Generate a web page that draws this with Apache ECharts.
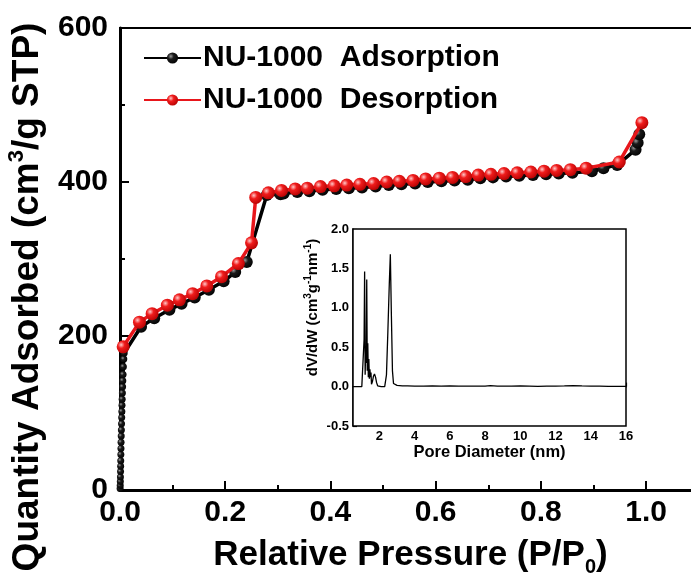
<!DOCTYPE html>
<html>
<head>
<meta charset="utf-8">
<script src="https://cdn.jsdelivr.net/npm/echarts@6/dist/echarts.min.js"></script>
<style>
html,body{margin:0;padding:0;background:#fff;}
#chart{width:691px;height:584px;}
</style>
</head>
<body>
<div id="chart"></div>
<script>
// ---- data ----
const adsX = [0.0002,0.0004,0.0006,0.0008,0.001,0.0012,0.0014,0.0016,0.0018,0.002,0.0023,0.0026,0.0029,0.0032,
  0.0035,0.0038,0.0041,0.0045,0.0049,0.0053,0.0058,0.0064,0.0072,0.008,
  0.040,0.065,0.094,0.117,0.142,0.169,0.197,0.219,0.241,0.279,0.305,0.311,0.337,0.360,0.385,0.411,0.435,0.460,
  0.486,0.511,0.535,0.561,0.585,0.611,0.636,0.661,0.685,0.709,0.734,0.759,0.785,0.810,0.834,0.860,
  0.897,0.919,0.945,0.980,0.984,0.987];
const adsY = [2,6,11,17,24,31,38,46,54,62,70,78,86,94,
  102,110,118,126,134,142,150,160,170,178,
  212,223,234,242,250,260,271,283,296,383,384,385,387,388,390,391,392,393,
  394,396,397,398,400,401,402,403,405,406,407,408,409,410,411,412,
  414,418,422,442,451,462];
const desX = [0.006,0.037,0.061,0.090,0.113,0.138,0.165,0.193,0.225,0.250,0.258,0.282,0.307,0.333,0.356,0.381,
  0.407,0.431,0.456,0.482,0.507,0.531,0.557,0.581,0.607,0.632,0.657,0.681,0.705,0.730,0.755,0.781,0.806,
  0.830,0.856,0.886,0.949,0.992];
const desY = [186,218,229,240,247,255,265,277,294,321,380,386,389,391,392,394,
  395,396,397,398,400,401,402,404,405,406,407,409,410,411,412,413,414,
  415,416,418,426,477];
// pore size distribution (inset)
const psdX = [0.5,1.0,1.10,1.13,1.16,1.19,1.22,1.25,1.28,1.31,1.34,1.37,1.40,1.43,1.46,1.49,1.52,1.55,
  1.60,1.66,1.72,1.78,1.84,1.90,1.95,2.10,2.30,2.40,2.48,2.56,2.62,2.68,2.74,2.80,2.90,3.0,3.3,3.6,4.0,
  4.5,5.0,5.5,6.0,6.5,7.0,7.5,8.0,8.3,8.7,9.0,9.5,10.0,10.5,11.0,11.5,12.0,12.5,13.0,13.5,14.0,14.5,15.0,15.5,16.0];
const psdY = [0,0,0.01,0.6,1.46,0.15,0.5,0.3,1.36,0.2,0.55,0.12,0.35,0.1,0.22,0.12,0.18,0.03,
  0.06,0.13,0.16,0.12,0.05,0.01,0.0,0.0,0.0,0.15,0.7,1.3,1.68,0.9,0.2,0.04,0.02,0.015,0.01,0.008,0.005,
  0.006,0.01,0.006,0.008,0.005,0.006,0.005,0.006,0.012,0.006,0.005,0.006,0.01,0.007,0.004,0.005,0.006,0.008,0.012,0.008,0.006,0.005,0.004,0.004,0.003];
const mainXTicks = [0, 0.2, 0.4, 0.6, 0.8, 1.0];
const mainYTicks = [0, 200, 400, 600];
const insetXTicks = [1,2,3,4,5,6,7,8,9,10,11,12,13,14,15,16];
const insetXLabels = [2,4,6,8,10,12,14,16];
const seriesNames = ['NU-1000  Adsorption', 'NU-1000  Desorption'];

// ---- chart ----
const FF = "'Liberation Sans', Arial, Helvetica, sans-serif";
const zip = (xs, ys) => xs.map((x, i) => [x, ys[i]]);
const ball = (hi, mid, dark) => ({
  type: 'radial', x: 0.35, y: 0.35, r: 0.75,
  colorStops: [{offset: 0, color: hi}, {offset: 0.35, color: mid}, {offset: 1, color: dark}]
});

const chart = echarts.init(document.getElementById('chart'), null, {renderer: 'canvas'});
chart.setOption({
  animation: false,
  backgroundColor: '#fff',
  textStyle: {fontFamily: FF},
  legend: {
    orient: 'vertical', left: 138, top: 38,
    itemWidth: 57, itemHeight: 14, itemGap: 12,
    data: seriesNames,
    textStyle: {fontFamily: FF, fontSize: 30, fontWeight: 'bold', color: '#000', lineHeight: 30, padding: [0,0,0,-3]}
  },
  grid: [
    {left: 120, top: 28, width: 605, height: 462, show: true, borderColor: '#000', borderWidth: 2,
     backgroundColor: 'transparent', outerBoundsMode: 'none', containLabel: false},
    {left: 353, top: 229, width: 273, height: 197, show: true, borderColor: '#000', borderWidth: 1.5,
     backgroundColor: '#fff', z: 5, outerBoundsMode: 'none', containLabel: false}
  ],
  xAxis: [
    {
      gridIndex: 0, type: 'value', min: 0, max: 1.15, interval: 0.2,
      name: '{t|Relative Pressure (P/P}{sub|0}{t|)}', nameLocation: 'middle', nameGap: 43,
      nameTextStyle: {padding: [0, 24, 0, 0], rich: {
        t: {fontFamily: FF, fontSize: 35, fontWeight: 'bold', color: '#000', lineHeight: 44},
        sub: {fontFamily: FF, fontSize: 20, fontWeight: 'bold', color: '#000', lineHeight: 44, verticalAlign: 'bottom'}
      }},
      axisLine: {lineStyle: {color: '#000', width: 3}},
      axisTick: {inside: true, length: 9, lineStyle: {color: '#000', width: 2}},
      minorTick: {show: true, splitNumber: 2, length: 5, lineStyle: {color: '#000', width: 2}},
      splitLine: {show: false},
      axisLabel: {
        margin: 8, fontFamily: FF, fontSize: 30, fontWeight: 'bold', color: '#000',
        formatter: v => mainXTicks.some(t => Math.abs(t - v) < 1e-6) ? v.toFixed(1) : ''
      }
    },
    {
      gridIndex: 1, type: 'value', min: 0.5, max: 16,
      name: 'Pore Diameter (nm)', nameLocation: 'middle', nameGap: 17,
      nameTextStyle: {fontFamily: FF, fontSize: 16.5, fontWeight: 'bold', color: '#000'},
      axisLine: {lineStyle: {color: '#000', width: 1.5}},
      axisTick: {inside: true, length: 4, customValues: insetXTicks, lineStyle: {color: '#000', width: 1.2}},
      splitLine: {show: false},
      axisLabel: {margin: 4, customValues: insetXLabels, fontFamily: FF, fontSize: 13, fontWeight: 'bold', color: '#000'}
    }
  ],
  yAxis: [
    {
      gridIndex: 0, type: 'value', min: 0, max: 600, interval: 200,
      name: '{t|Quantity Adsorbed (cm}{sup|3}{t|/g STP)}', nameLocation: 'middle', nameGap: 70,
      nameTextStyle: {padding: [0, 76, 0, 0], rich: {
        t: {fontFamily: FF, fontSize: 37, fontWeight: 'bold', color: '#000', lineHeight: 44},
        sup: {fontFamily: FF, fontSize: 22, fontWeight: 'bold', color: '#000', lineHeight: 44, verticalAlign: 'top'}
      }},
      axisLine: {lineStyle: {color: '#000', width: 3}},
      axisTick: {inside: true, length: 9, lineStyle: {color: '#000', width: 2}},
      minorTick: {show: true, splitNumber: 2, length: 5, lineStyle: {color: '#000', width: 2}},
      splitLine: {show: false},
      axisLabel: {margin: 12, fontFamily: FF, fontSize: 30, fontWeight: 'bold', color: '#000',
        formatter: v => mainYTicks.includes(v) ? String(v) : ''}
    },
    {
      gridIndex: 1, type: 'value', min: -0.5, max: 2.0, interval: 0.5,
      name: '{t|dV/dW (cm}{s|3}{t|g}{s|-1}{t|nm}{s|-1}{t|)}', nameLocation: 'middle', nameGap: 31,
      nameTextStyle: {padding: [0, 0, 0, 40], rich: {
        t: {fontFamily: FF, fontSize: 15, fontWeight: 'bold', color: '#000', lineHeight: 19},
        s: {fontFamily: FF, fontSize: 10, fontWeight: 'bold', color: '#000', lineHeight: 19, verticalAlign: 'top'}
      }},
      axisLine: {lineStyle: {color: '#000', width: 1.5}},
      axisTick: {inside: true, length: 4, lineStyle: {color: '#000', width: 1.2}},
      minorTick: {show: true, splitNumber: 2, length: 4, lineStyle: {color: '#000', width: 1.2}},
      splitLine: {show: false},
      axisLabel: {margin: 4, fontFamily: FF, fontSize: 13, fontWeight: 'bold', color: '#000',
        formatter: v => v.toFixed(1)}
    }
  ],
  series: [
    {
      name: seriesNames[0], type: 'line', xAxisIndex: 0, yAxisIndex: 0, z: 2,
      data: zip(adsX, adsY),
      symbol: 'circle', showAllSymbol: true,
      symbolSize: v => (v[0] < 0.01 ? 7 : 12),
      lineStyle: {color: '#000', width: 3.5},
      itemStyle: {color: ball('#9a9a9a', '#1a1a1a', '#000')}
    },
    {
      name: seriesNames[1], type: 'line', xAxisIndex: 0, yAxisIndex: 0, z: 3,
      data: zip(desX, desY),
      symbol: 'circle', symbolSize: 13, showAllSymbol: true,
      lineStyle: {color: '#e8161b', width: 3.5},
      itemStyle: {color: ball('#ffc8c8', '#f01c1c', '#b00000')}
    },
    {
      name: 'PSD', type: 'line', xAxisIndex: 1, yAxisIndex: 1, z: 6,
      data: zip(psdX, psdY), symbol: 'none',
      lineStyle: {color: '#000', width: 1.3}
    }
  ]
});
</script>
</body>
</html>
